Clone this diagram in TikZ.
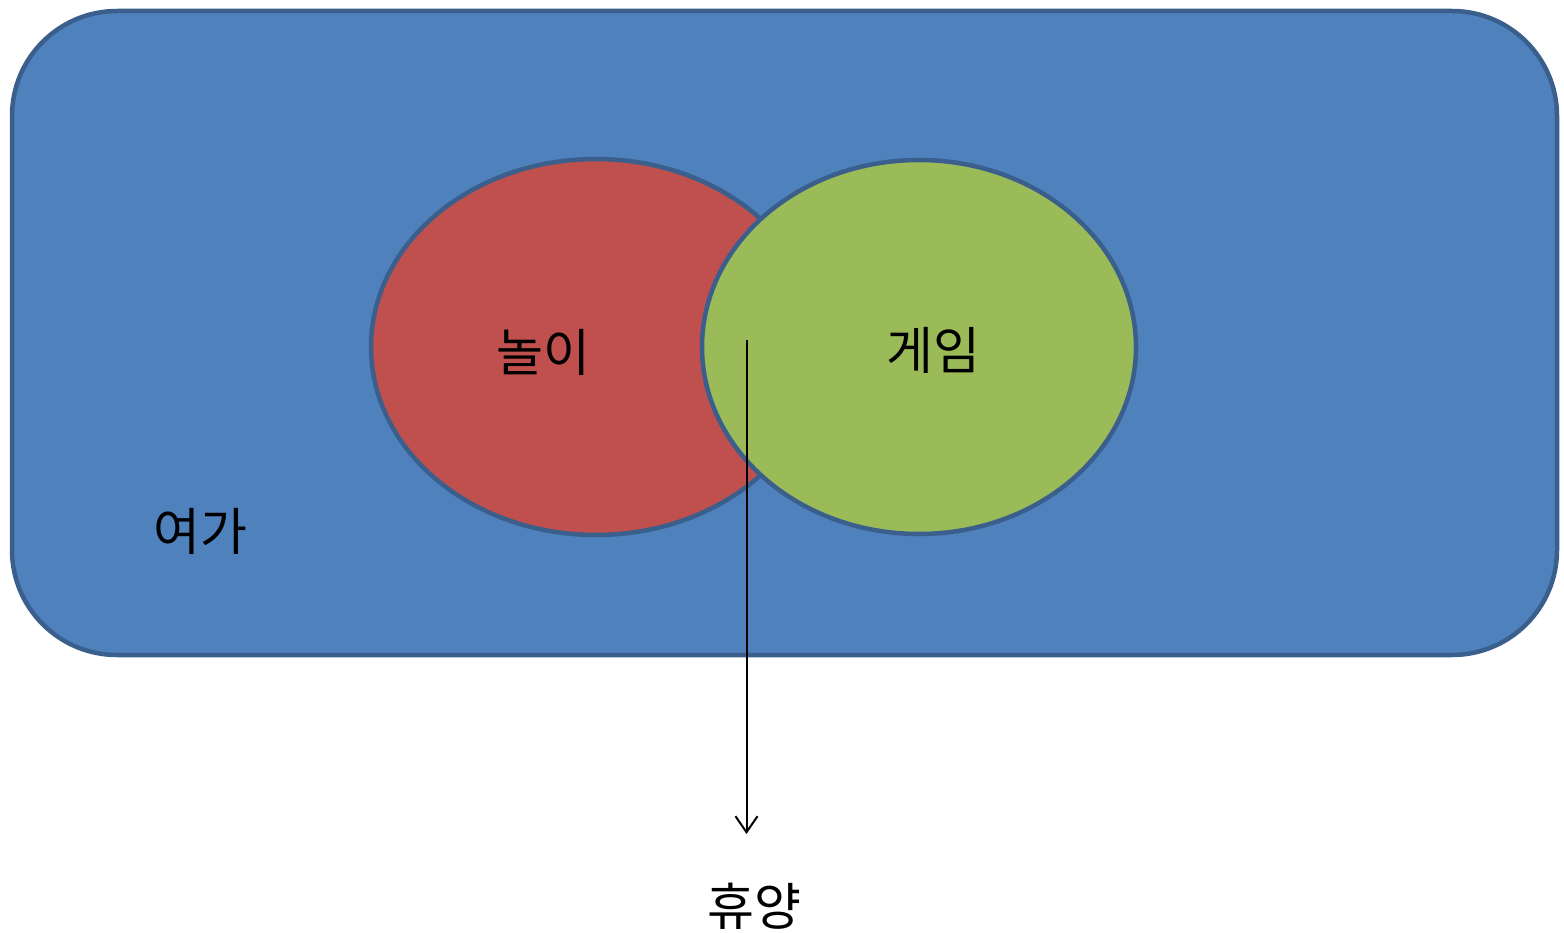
\documentclass[tikz,border=0pt]{standalone}
\usepackage{fontspec}
\setmainfont{Noto Sans CJK KR}
\usetikzlibrary{arrows.meta}
\definecolor{boxblue}{HTML}{4F81BD}
\definecolor{edgeblue}{HTML}{3A5F8C}
\definecolor{redfill}{HTML}{C0504D}
\definecolor{greenfill}{HTML}{9BBB59}
\tikzset{
  shapeedge/.style={draw=edgeblue, line width=4.5pt},
  lbl/.style={font=\fontsize{51}{55}\selectfont, text=black, inner sep=0pt},
}
\begin{document}
\begin{tikzpicture}[x=1pt,y=-1pt]
\useasboundingbox (0,0) rectangle (1564,933);
\draw[shapeedge, fill=boxblue, rounded corners=105pt] (12,11) rectangle (1557,655);
\draw[shapeedge, fill=redfill] (596,347) ellipse [x radius=225, y radius=188];
\draw[shapeedge, fill=greenfill] (919,347) ellipse [x radius=217, y radius=187];
\node[lbl] (play) at (543,352) {놀이};
\node[lbl] (game) at (933,350) {게임};
\node[lbl] (leisure) at (200,531) {여가};
\node[lbl] (rest) at (754,906) {휴양};
\coordinate (start) at (746.5,340);
\coordinate (tip) at (746.5,834);
\draw[line width=2pt, -{Straight Barb[length=16pt,width=22pt,line width=2pt]}] (start) -- (tip);
\end{tikzpicture}
\end{document}
